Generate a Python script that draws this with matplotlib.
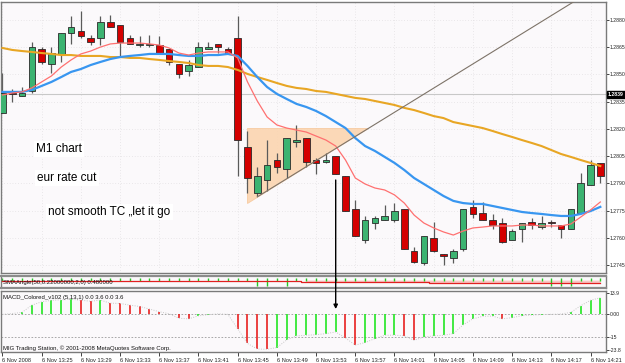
import numpy as np
import matplotlib.pyplot as plt
from matplotlib.patches import Polygon, ConnectionPatch
from matplotlib.ticker import FixedLocator, FuncFormatter

plt.rcParams['font.family'] = ['Liberation Sans', 'DejaVu Sans']

# ---- data (EURUSD M1, 6 Nov 2008) ----
bar_time = ["13:21", "13:22", "13:23", "13:24", "13:25", "13:26", "13:27", "13:28", "13:29", "13:30",
            "13:31", "13:32", "13:33", "13:34", "13:35", "13:36", "13:37", "13:38", "13:39", "13:40",
            "13:41", "13:42", "13:43", "13:44", "13:45", "13:46", "13:47", "13:48", "13:49", "13:50",
            "13:51", "13:52", "13:53", "13:54", "13:55", "13:56", "13:57", "13:58", "13:59", "14:00",
            "14:01", "14:02", "14:03", "14:04", "14:05", "14:06", "14:07", "14:08", "14:09", "14:10",
            "14:11", "14:12", "14:13", "14:14", "14:15", "14:16", "14:17", "14:18", "14:19", "14:20",
            "14:21", "14:22"]

opens = [1.2829, 1.2840, 1.2838, 1.2841, 1.2864, 1.2856, 1.2861, 1.2873, 1.2874, 1.2870,
         1.2870, 1.2879, 1.2877, 1.2870, 1.2866, 1.2866, 1.2866, 1.2864, 1.2856, 1.2852,
         1.2854, 1.2864, 1.2867, 1.2864, 1.2870, 1.2810, 1.2785, 1.2792, 1.2803, 1.2798,
         1.2813, 1.2815, 1.2803, 1.2802, 1.2805, 1.2794, 1.2776, 1.2759, 1.2768, 1.2770,
         1.2770, 1.2776, 1.2753, 1.2746, 1.2760, 1.2751, 1.2749, 1.2754, 1.2777, 1.2774,
         1.2770, 1.2768, 1.2759, 1.2765, 1.2769, 1.2766, 1.2769, 1.2767, 1.2765, 1.2774,
         1.2789, 1.2801]
highs = [1.2851, 1.2842, 1.2843, 1.2868, 1.2865, 1.2865, 1.2873, 1.2882, 1.2885, 1.2872,
         1.2882, 1.2883, 1.2877, 1.2872, 1.2871, 1.2872, 1.2871, 1.2864, 1.2856, 1.2858,
         1.2868, 1.2868, 1.2867, 1.2865, 1.2882, 1.2819, 1.2799, 1.2814, 1.2807, 1.2815,
         1.2822, 1.2815, 1.2804, 1.2807, 1.2805, 1.2794, 1.2781, 1.2772, 1.2772, 1.2778,
         1.2779, 1.2776, 1.2755, 1.2761, 1.2769, 1.2751, 1.2754, 1.2776, 1.2781, 1.2780,
         1.2773, 1.2771, 1.2765, 1.2768, 1.2771, 1.2772, 1.2770, 1.2767, 1.2776, 1.2796,
         1.2803, 1.2801]
lows = [1.2829, 1.2835, 1.2838, 1.2840, 1.2856, 1.2851, 1.2857, 1.2867, 1.2870, 1.2866,
        1.2866, 1.2876, 1.2860, 1.2867, 1.2865, 1.2865, 1.2862, 1.2855, 1.2848, 1.2849,
        1.2854, 1.2864, 1.2862, 1.2861, 1.2794, 1.2785, 1.2783, 1.2786, 1.2796, 1.2793,
        1.2810, 1.2799, 1.2795, 1.2801, 1.2795, 1.2775, 1.2761, 1.2757, 1.2765, 1.2770,
        1.2769, 1.2754, 1.2746, 1.2745, 1.2752, 1.2745, 1.2746, 1.2753, 1.2771, 1.2770,
        1.2765, 1.2757, 1.2759, 1.2758, 1.2765, 1.2765, 1.2766, 1.2760, 1.2765, 1.2774,
        1.2789, 1.2790]
closes = [1.2840, 1.2839, 1.2840, 1.2865, 1.2857, 1.2862, 1.2873, 1.2876, 1.2871, 1.2868,
          1.2879, 1.2876, 1.2868, 1.2867, 1.2867, 1.2867, 1.2862, 1.2857, 1.2850, 1.2855,
          1.2865, 1.2865, 1.2865, 1.2861, 1.2814, 1.2793, 1.2794, 1.2800, 1.2799, 1.2815,
          1.2814, 1.2802, 1.2801, 1.2803, 1.2795, 1.2775, 1.2761, 1.2770, 1.2771, 1.2772,
          1.2775, 1.2754, 1.2747, 1.2761, 1.2753, 1.2750, 1.2753, 1.2776, 1.2773, 1.2770,
          1.2767, 1.2758, 1.2764, 1.2768, 1.2767, 1.2768, 1.2768, 1.2765, 1.2776, 1.2790,
          1.2800, 1.2794]

ma_fast = [1.28387, 1.28398, 1.28404, 1.28426, 1.28459, 1.28492, 1.28541, 1.28580, 1.28613, 1.28629,
           1.28651, 1.28668, 1.28673, 1.28673, 1.28673, 1.28668, 1.28662, 1.28646, 1.28618, 1.28607,
           1.28618, 1.28624, 1.28624, 1.28624, 1.28591, 1.28459, 1.28354, 1.28266, 1.28222, 1.28205,
           1.28194, 1.28183, 1.28161, 1.28139, 1.28106, 1.28029, 1.27930, 1.27897, 1.27875, 1.27864,
           1.27837, 1.27792, 1.27726, 1.27682, 1.27655, 1.27633, 1.27616, 1.27638, 1.27655, 1.27660,
           1.27666, 1.27666, 1.27666, 1.27671, 1.27671, 1.27666, 1.27666, 1.27666, 1.27677, 1.27715,
           1.27754, 1.27798]
ma_mid = [1.28404, 1.28404, 1.28404, 1.28415, 1.28437, 1.28459, 1.28486, 1.28514, 1.28530, 1.28552,
          1.28569, 1.28585, 1.28596, 1.28602, 1.28607, 1.28613, 1.28613, 1.28613, 1.28607, 1.28602,
          1.28602, 1.28607, 1.28607, 1.28613, 1.28602, 1.28547, 1.28486, 1.28431, 1.28393, 1.28365,
          1.28338, 1.28321, 1.28299, 1.28271, 1.28238, 1.28205, 1.28150, 1.28106, 1.28079, 1.28046,
          1.28013, 1.27974, 1.27930, 1.27897, 1.27864, 1.27831, 1.27804, 1.27792, 1.27787, 1.27787,
          1.27776, 1.27765, 1.27754, 1.27743, 1.27737, 1.27732, 1.27726, 1.27721, 1.27721, 1.27732,
          1.27748, 1.27771]
ma_slow = [1.28646, 1.28635, 1.28629, 1.28624, 1.28618, 1.28613, 1.28607, 1.28607, 1.28602, 1.28602,
           1.28602, 1.28596, 1.28596, 1.28591, 1.28591, 1.28585, 1.28580, 1.28574, 1.28569, 1.28563,
           1.28552, 1.28547, 1.28547, 1.28541, 1.28525, 1.28503, 1.28486, 1.28470, 1.28453, 1.28437,
           1.28426, 1.28420, 1.28409, 1.28404, 1.28393, 1.28382, 1.28371, 1.28365, 1.28354, 1.28343,
           1.28332, 1.28316, 1.28304, 1.28288, 1.28271, 1.28260, 1.28238, 1.28227, 1.28216, 1.28205,
           1.28189, 1.28172, 1.28156, 1.28139, 1.28123, 1.28106, 1.28084, 1.28062, 1.28046, 1.28029,
           1.28013, 1.27996]

macd = [0.0, 0.5, 1.3, 6.1, 8.3, 9.3, 9.6, 10.0, 9.3, 8.7,
        9.4, 7.4, 7.2, 6.1, 5.2, 3.5, 1.7, 0.4, -2.6, -3.0,
        -1.0, -0.2, 0.3, 0.0, -9.6, -19.3, -23.0, -23.2, -22.0, -17.0,
        -14.3, -13.9, -13.5, -12.8, -11.7, -15.7, -20.4, -18.7, -16.1, -13.9,
        -13.8, -14.3, -17.2, -15.0, -14.3, -13.9, -12.8, -7.0, -3.0, -1.3,
        -1.2, -3.0, -2.2, -0.9, -0.5, -0.2, 0.0, 0.2, 1.3, 5.7,
        9.3, 11.0]
# SMAAngle histogram (top / bottom of each green bar) and its red signal line
sma_top = [0.6] * 62
sma_bot = [0.0, 0.0, 0.0, 0.0, 0.0, 0.0, 0.0, 0.0, 0.0, 0.0,
           0.0, 0.0, 0.0, 0.0, 0.0, 0.0, 0.0, 0.0, 0.0, 0.0,
           0.0, 0.0, 0.0, 0.0, 0.0, 0.0, -0.9, -0.9, 0.0, -0.9,
           0.0, 0.0, 0.0, 0.0, 0.0, 0.0, 0.0, 0.0, 0.0, 0.0,
           0.0, 0.0, 0.0, 0.0, 0.0, 0.0, 0.0, 0.0, 0.0, 0.0,
           0.0, 0.0, 0.0, 0.0, 0.0, 0.0, -0.9, -0.9, -0.9, 0.0,
           0.0, 0.0]
sma_line = [0.0] * 31 + [-0.15] * 13 + [-0.3] * 18

price_ticks = [1.2745, 1.2760, 1.2775, 1.2790, 1.2805, 1.2820, 1.2835, 1.2850, 1.2865, 1.2880]
hline_price = 1.2839
macd_ticks = [13.9, 0.0, -15.0, -23.8]
macd_tick_labels = ["13.9", "0.00", "-15", "-23.8"]
trend_pts = [(26, 1.27826), (37, 1.28192)]
tri_pts = [(25.0, 1.27792), (25.0, 1.28205), (37.3, 1.28205)]

# ---- figure layout in pixels (625 x 363) ----
W, H = 625, 363
fig = plt.figure(figsize=(W / 100, H / 100), dpi=100)
fig.patch.set_facecolor('white')


def rect(x0, y0, x1, y1):
    return [x0 / W, 1 - y1 / H, (x1 - x0) / W, (y1 - y0) / H]


bg = '#fbf9fb'
ax = fig.add_axes(rect(1, 2, 606, 273))
ax_sma = fig.add_axes(rect(1, 276, 606, 288))
ax_macd = fig.add_axes(rect(1, 291, 606, 352))

n = len(opens)
x = np.arange(n)
xlim = (-0.15, 61.58)
small = 4.3
axfs = 3.7

for a in (ax, ax_sma, ax_macd):
    a.set_facecolor(bg)
    a.set_xlim(*xlim)
    for s in a.spines.values():
        s.set_color('#7a7a7a')
        s.set_linewidth(1.0)
    a.yaxis.tick_right()
    a.tick_params(axis='y', length=1.8, width=0.6, pad=0.8, labelsize=axfs, colors='#222222')
    a.tick_params(axis='x', length=0)
    a.set_xticks([])
for s in ('top', 'bottom'):
    ax_sma.spines[s].set_linewidth(1.6)
    ax_sma.spines[s].set_color('#8c8c8c')

# ---- main price panel ----
ax.set_ylim(1.27407, 1.28899)
for t in price_ticks:
    ax.axhline(t, color='#d9d6d9', lw=0.5, ls=(0, (1, 3)), zorder=0)
for i in range(0, n, 4):
    ax.axvline(i, color='#d9d6d9', lw=0.5, ls=(0, (1, 3)), zorder=0)

ax.yaxis.set_major_locator(FixedLocator(price_ticks))
ax.yaxis.set_major_formatter(FuncFormatter(lambda v, p: f"{v:.4f}"))

ax.axhline(hline_price, color='#c8c8c8', lw=0.8, zorder=1)
ax.text(1.003, hline_price, f"{hline_price:.4f}", transform=ax.get_yaxis_transform(),
        ha='left', va='center', fontsize=axfs, color='white', fontweight='bold',
        bbox=dict(boxstyle='square,pad=0.2', fc='black', ec='black'), zorder=10, clip_on=False)

ax.add_patch(Polygon(tri_pts, closed=True, fc='#fbd5b0', ec='#f6c89c', lw=0.6, alpha=0.9, zorder=1))

(x1, y1), (x2, y2) = trend_pts
slope = (y2 - y1) / (x2 - x1)
xr = np.array([x1, xlim[1]])
ax.plot(xr, y1 + slope * (xr - x1), color='#7d7368', lw=0.8, zorder=5)

o = np.array(opens); h = np.array(highs); l = np.array(lows); c = np.array(closes)
up = c >= o
ax.vlines(x, l, h, color='#5a5a5a', lw=0.9, zorder=2)
body_lo = np.minimum(o, c)
body_h = np.maximum(np.abs(c - o), 0.00003)
ax.bar(x[up], body_h[up], 0.68, bottom=body_lo[up], color='#3cb371', edgecolor='#2a2a2a', lw=0.6, zorder=3)
ax.bar(x[~up], body_h[~up], 0.68, bottom=body_lo[~up], color='#d40000', edgecolor='#2a2a2a', lw=0.6, zorder=3)

ax.plot(x, ma_slow, color='#e8a624', lw=1.5, zorder=4)
ax.plot(x, ma_mid, color='#3896f0', lw=1.6, zorder=4)
ax.plot(x, ma_fast, color='#ff7070', lw=0.9, zorder=4)

txt_kw = dict(fontsize=8.5, color='black', va='center', ha='left', zorder=6,
              bbox=dict(boxstyle='square,pad=0.2', fc='white', ec='none'))
ax.text(3.42, 1.28090, "M1 chart", **txt_kw)
ax.text(3.52, 1.27930, "eur rate cut", **txt_kw)
ax.text(4.65, 1.27743, "not smooth TC \u201elet it go", **txt_kw)

# ---- SMAAngle panel ----
ax_sma.set_ylim(-1.2, 1.0)
ax_sma.set_yticks([])
ax_sma.fill_between(x, sma_line, 0.25, where=np.array(sma_line) < 0, color='#f6c6c6', lw=0, zorder=1)
ax_sma.vlines(x, sma_bot, sma_top, color='#22cc22', lw=1.0, zorder=2)
ax_sma.step(x, sma_line, where='mid', color='#e02020', lw=0.9, zorder=3)
ax_sma.text(0.004, 0.45, "SMAAngle(50,0.22000000,2,0) 0.480000", transform=ax_sma.transAxes,
            fontsize=small, va='center', ha='left', color='#111111', zorder=4)

# ---- MACD panel ----
ax_macd.set_ylim(-24.98, 15.46)
ax_macd.yaxis.set_major_locator(FixedLocator(macd_ticks))
ax_macd.set_yticklabels(macd_tick_labels)
ax_macd.axhline(0, color='#9a9a9a', lw=0.6, ls=(0, (2, 2)), zorder=1)
ax_macd.axhline(-15, color='#9a9a9a', lw=0.6, ls=(0, (2, 2)), zorder=1)
m = np.array(macd)
rising = np.r_[True, np.diff(m) > 0]
ax_macd.vlines(x[rising], 0, m[rising], color='#22e622', lw=1.2, zorder=2)
ax_macd.vlines(x[~rising], 0, m[~rising], color='#e82020', lw=1.2, zorder=2)
ax_macd.plot(x, m, color='#c8c8c8', lw=0.7, ls=(0, (1, 1.5)), zorder=3)
ax_macd.text(0.004, 0.9, "MACD_Colored_v102 (5,13,1) 0.0 3.6 0.0 3.6", transform=ax_macd.transAxes,
             fontsize=small, va='center', ha='left', color='#111111')
ax_macd.text(0.004, 0.07, "MIG Trading Station, \u00a9 2001-2008 MetaQuotes Software Corp.",
             transform=ax_macd.transAxes, fontsize=small, va='center', ha='left', color='#111111')

# time axis
tick_idx = list(range(0, n - 1, 4))
tick_lab = ["6 Nov 2008"] + [f"6 Nov {bar_time[i]}" for i in tick_idx[1:]]
ax_macd.set_xticks(tick_idx)
ax_macd.set_xticklabels(tick_lab, fontsize=4.1, ha='left')
ax_macd.tick_params(axis='x', length=3, width=0.6, pad=1.5, colors='#222222')

# arrow from the breakdown candle down into the MACD panel
arr = ConnectionPatch(xyA=(34, 1.27919), coordsA=ax.transData, xyB=(34, 3.5), coordsB=ax_macd.transData,
                      arrowstyle='-|>', color='black', lw=1.0, mutation_scale=6, zorder=20)
fig.add_artist(arr)

fig.savefig('out.png', dpi=100, facecolor='white')
